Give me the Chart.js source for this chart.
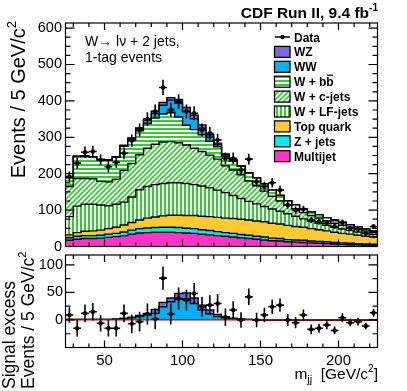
<!DOCTYPE html>
<html>
<head>
<meta charset="utf-8">
<title>CDF W+2 jets, 1-tag mjj</title>
<script src="https://cdn.jsdelivr.net/npm/chart.js@4.4.1/dist/chart.umd.min.js"></script>
<style>
  html, body { margin: 0; padding: 0; background: #fff; }
  #wrap { position: relative; width: 407px; height: 391px; overflow: hidden; }
  #wrap canvas { position: absolute; left: 0; top: 0; }
</style>
</head>
<body>
<div id="wrap">
  <canvas id="mainChart" width="407" height="391"></canvas>
  <canvas id="excessChart" width="407" height="391"></canvas>
</div>
<script>
// m_jj bin edges, 5 GeV/c^2 bins
const binEdges = [25,30,35,40,45,50,55,60,65,70,75,80,85,90,95,100,105,110,115,120,
                  125,130,135,140,145,150,155,160,165,170,175,180,185,190,195,200,205,210,215,220,225];

// background + signal templates (events / bin), bottom of the stack first
const multijet = [17,20,22,22,23,25,27,30,34,37,38,39,39,39,38,37,36,34,32,30,28,26,24,22,20,18,16,15,13,12,11,10,9,8,7,6,5,5,4,3];
const zJets    = [7,8,8,8,8,9,9,10,11,12,13,13,14,14,14,13,13,12,12,11,10,10,9,9,8,8,7,7,6,6,6,5,5,5,4,4,4,3,3,3];
const topQuark = [8,10,12,13,14,15,17,19,21,24,27,29,31,33,34,35,36,37,38,39,40,41,42,42,42,42,41,40,39,37,36,34,32,30,28,26,25,23,21,20];
const wLFjets  = [50,73,74,73,69,63,63,63,70,83,87,89,89,89,89,88,85,83,79,75,70,63,57,51,47,42,39,35,32,28,23,21,18,15,14,12,10,9,8,7];
const wCjets   = [83,76,71,70,65,66,69,87,92,96,105,111,114,113,110,106,100,95,90,85,74,70,65,56,50,42,35,28,24,21,17,15,14,12,11,10,9,8,7,5];
const wBB      = [24,60,61,60,59,59,60,66,65,66,68,72,77,81,71,54,51,46,38,34,26,25,23,22,21,20,17,15,12,11,11,10,9,9,8,8,7,6,5,4];
const wwSignal = [1,1,1,1,1,1,1,2,4,6,9,12,24,33,38,38,30,18,11,6,4,2,1,1,0,0,0,0,0,0,0,0,0,0,0,0,0,0,0,0];
const wzSignal = [0,0,0,0,0,0,1,1,1,2,3,7,8,7,10,11,10,9,7,4,2,1,1,0,0,0,0,0,0,0,0,0,0,0,0,0,0,0,0,0];

// data
const dataCounts = [192,229,259,261,238,219,231,256,291,320,350,371,437,376,398,371,366,320,311,293,
                    242,242,210,240,178,165,175,155,114,100,102,73,68,64,55,66,50,48,36,55];
const dataErr    = [14,15,16,16,15,15,15,16,17,18,19,19,21,19,20,19,19,18,18,17,
                    16,16,14,15,13,13,13,12,11,10,10,9,8,8,7,8,7,7,6,7];
// data minus non-diboson backgrounds
const excess     = [9,-15,12,15,-6,-15,-15,12,-7,-3,11,2,76,11,39,36,48,24,27,30,
                    5,18,0,42,0,9,24,27,0,-5,9,-17,-15,-9,-19,4,-5,-3,-11,13];

// axis ticks
const mainYTicks = [0,100,200,300,400,500,600];
const mainYMinor = [25,50,75,125,150,175,225,250,275,325,350,375,425,450,475,525,550,575];
const excessYTicks = [0,50,100];
const excessYMinor = [-25,25,75];
const xTicks = [50,100,150,200];
const xMinor = [30,40,60,70,80,90,110,120,130,140,160,170,180,190,210,220];

const FONT = '"Liberation Sans", Arial, Helvetica, sans-serif';
const GREEN = '#33cc33';
const col = {
  multijet: '#ff33cc', z: '#00eeee', top: '#ffc933', ww: '#00b0f0', wz: '#7a66e0'
};

function hatch(kind) {
  const c = document.createElement('canvas');
  const s = kind === 'd' ? 5 : 4;
  c.width = s; c.height = s;
  const g = c.getContext('2d');
  g.fillStyle = '#fff'; g.fillRect(0, 0, s, s);
  g.fillStyle = GREEN; g.strokeStyle = GREEN;
  if (kind === 'h') g.fillRect(0, 0, s, 2);
  if (kind === 'v') g.fillRect(0, 0, 2, s);
  if (kind === 'd') {
    g.lineWidth = 1.6;
    g.beginPath();
    for (let k = -1; k <= 1; k++) { g.moveTo(k * s - 1, s + 1); g.lineTo(k * s + s + 1, -1); }
    g.stroke();
  }
  return g.createPattern(c, 'repeat');
}
const patH = hatch('h'), patD = hatch('d'), patV = hatch('v');

const layers = [
  { label: 'Multijet',    vals: multijet, bg: col.multijet },
  { label: 'Z + jets',    vals: zJets,    bg: col.z },
  { label: 'Top quark',   vals: topQuark, bg: col.top },
  { label: 'W + LF-jets', vals: wLFjets,  bg: patV },
  { label: 'W + c-jets',  vals: wCjets,   bg: patD },
  { label: 'W + bb',      vals: wBB,      bg: patH },
  { label: 'WW',          vals: wwSignal, bg: col.ww },
  { label: 'WZ',          vals: wzSignal, bg: col.wz }
];

const nBins = binEdges.length - 1;
const binCentres = binEdges.slice(0, nBins).map((e, i) => (e + binEdges[i + 1]) / 2);

// histogram step points: value of bin i held from edge i to edge i+1
function stepPoints(vals) {
  return binEdges.map((x, i) => ({ x: x, y: vals[Math.min(i, nBins - 1)] }));
}

function stackDatasets(list, baseOrder) {
  let cum = new Array(nBins).fill(0);
  return list.map((L, k) => {
    cum = cum.map((c, i) => c + L.vals[i]);
    return {
      label: L.label, data: stepPoints(cum), stepped: 'before',
      fill: k === 0 ? 'origin' : '-1', backgroundColor: L.bg,
      borderColor: '#000', borderWidth: 1.4, pointRadius: 0, order: baseOrder + k
    };
  });
}

const mainDatasets = stackDatasets(layers, 10);
mainDatasets.push({
  label: 'Data', data: binCentres.map((x, i) => ({ x: x, y: dataCounts[i] })),
  errors: dataErr, showLine: false, pointRadius: 2.2, pointBackgroundColor: '#000',
  pointBorderWidth: 0, order: 0
});

const excessDatasets = stackDatasets(layers.slice(6), 10);
excessDatasets.push({
  label: 'zero', data: [{ x: 25, y: 0 }, { x: 225, y: 0 }], borderColor: '#e00000',
  borderWidth: 1.2, pointRadius: 0, fill: false, order: 1
});
excessDatasets.push({
  label: 'Excess', data: binCentres.map((x, i) => ({ x: x, y: excess[i] })),
  errors: dataErr, showLine: false, pointRadius: 2.2, pointBackgroundColor: '#000',
  pointBorderWidth: 0, order: 0
});

// ---- plugins ----
const errorBars = {
  id: 'errorBars',
  afterDatasetsDraw(chart) {
    const { ctx, chartArea: a, scales: { x, y } } = chart;
    ctx.save();
    ctx.beginPath(); ctx.rect(a.left, a.top, a.right - a.left, a.bottom - a.top); ctx.clip();
    ctx.strokeStyle = '#000'; ctx.lineWidth = 1.6;
    chart.data.datasets.forEach(ds => {
      if (!ds.errors) return;
      ctx.beginPath();
      ds.data.forEach((p, i) => {
        const px = x.getPixelForValue(p.x), py = y.getPixelForValue(p.y);
        ctx.moveTo(px, y.getPixelForValue(p.y - ds.errors[i]));
        ctx.lineTo(px, y.getPixelForValue(p.y + ds.errors[i]));
        ctx.moveTo(x.getPixelForValue(p.x - 2.5), py);
        ctx.lineTo(x.getPixelForValue(p.x + 2.5), py);
      });
      ctx.stroke();
    });
    ctx.restore();
  }
};

const frameAndTicks = {
  id: 'frameAndTicks',
  afterDraw(chart, args, o) {
    const { ctx, chartArea: a, scales: { x, y } } = chart;
    ctx.save();
    ctx.strokeStyle = '#000'; ctx.lineWidth = 1.2;
    ctx.beginPath();
    const xt = (vals, len) => vals.forEach(v => {
      const p = x.getPixelForValue(v);
      ctx.moveTo(p, a.bottom); ctx.lineTo(p, a.bottom - len);
      ctx.moveTo(p, a.top); ctx.lineTo(p, a.top + len);
    });
    const yt = (vals, len) => vals.forEach(v => {
      const p = y.getPixelForValue(v);
      ctx.moveTo(a.left, p); ctx.lineTo(a.left + len, p);
      ctx.moveTo(a.right, p); ctx.lineTo(a.right - len, p);
    });
    xt(o.xMajor, 7); xt(o.xMinor, 4);
    yt(o.yMajor, 9); yt(o.yMinor, 5);
    ctx.stroke();
    ctx.strokeRect(a.left, a.top, a.right - a.left, a.bottom - a.top);
    ctx.restore();
  }
};

// text with sub/superscripts: parts = [text, scale, rise]
function richText(ctx, parts, x, y, align, size, weight) {
  let w = 0;
  parts.forEach(p => { ctx.font = `${weight} ${size * (p[1] || 1)}px ${FONT}`; w += ctx.measureText(p[0]).width; });
  let cx = align === 'right' ? x - w : (align === 'center' ? x - w / 2 : x);
  ctx.textAlign = 'left'; ctx.textBaseline = 'alphabetic';
  parts.forEach(p => {
    ctx.font = `${weight} ${size * (p[1] || 1)}px ${FONT}`;
    ctx.fillText(p[0], cx, y - (p[2] || 0) * size);
    cx += ctx.measureText(p[0]).width;
  });
  return w;
}

const legendRows = [
  { label: 'Data' },
  { label: 'WZ', bg: col.wz },
  { label: 'WW', bg: col.ww },
  { label: 'W + bb', bg: patH, bar: true },
  { label: 'W + c-jets', bg: patD },
  { label: 'W + LF-jets', bg: patV },
  { label: 'Top quark', bg: col.top },
  { label: 'Z + jets', bg: col.z },
  { label: 'Multijet', bg: col.multijet }
];

const mainDecor = {
  id: 'mainDecor',
  afterDraw(chart) {
    const ctx = chart.ctx;
    ctx.save();
    ctx.fillStyle = '#000';
    richText(ctx, [['CDF Run II, 9.4 fb'], ['-1', 0.65, 0.45]], 378, 17.5, 'right', 15.5, 'bold');
    richText(ctx, [['W\u2192 l\u03bd + 2 jets,']], 85, 45.5, 'left', 14, 'normal');
    richText(ctx, [['1-tag events']], 85, 62, 'left', 14, 'normal');
    ctx.save();
    ctx.translate(25, 21); ctx.rotate(-Math.PI / 2);
    richText(ctx, [['Events / 5 GeV/c'], ['2', 0.65, 0.45]], 0, 0, 'right', 20, 'normal');
    ctx.restore();
    // legend
    legendRows.forEach((r, i) => {
      const yc = 37 + 14.9 * i;
      ctx.strokeStyle = '#000';
      if (!r.bg) {
        ctx.lineWidth = 1.5;
        ctx.beginPath(); ctx.moveTo(275, yc); ctx.lineTo(290, yc); ctx.stroke();
        ctx.beginPath(); ctx.arc(282.5, yc, 2.2, 0, Math.PI * 2); ctx.fill();
      } else {
        ctx.fillStyle = r.bg; ctx.fillRect(274.5, yc - 5.5, 15.5, 11);
        ctx.lineWidth = 1.3; ctx.strokeRect(274.5, yc - 5.5, 15.5, 11);
      }
      ctx.fillStyle = '#000';
      richText(ctx, [[r.label]], 294, yc + 4.5, 'left', 12, 'bold');
      if (r.bar) {
        ctx.font = `bold 12px ${FONT}`;
        const x0 = 294 + ctx.measureText('W + b').width, x1 = 294 + ctx.measureText('W + bb').width;
        ctx.lineWidth = 1.2;
        ctx.beginPath(); ctx.moveTo(x0 + 0.5, yc - 6.5); ctx.lineTo(x1 - 0.5, yc - 6.5); ctx.stroke();
      }
    });
    ctx.restore();
  }
};

const excessDecor = {
  id: 'excessDecor',
  afterDraw(chart) {
    const ctx = chart.ctx;
    ctx.save();
    ctx.fillStyle = '#000';
    ctx.save(); ctx.translate(14.5, 389); ctx.rotate(-Math.PI / 2);
    richText(ctx, [['Signal excess']], 0, 0, 'left', 17.5, 'normal');
    ctx.restore();
    ctx.save(); ctx.translate(34, 389); ctx.rotate(-Math.PI / 2);
    richText(ctx, [['Events / 5 GeV/c'], ['2', 0.65, 0.45]], 0, 0, 'left', 17.5, 'normal');
    ctx.restore();
    richText(ctx, [['m'], ['jj', 0.7, -0.3], ['  [GeV/c'], ['2', 0.65, 0.45], [']']], 378, 378.5, 'right', 15.5, 'normal');
    ctx.restore();
  }
};

const tickFont = { family: FONT, size: 14.5 };

new Chart(document.getElementById('mainChart'), {
  type: 'line',
  data: { datasets: mainDatasets },
  options: {
    responsive: false, animation: false, events: [],
    layout: { padding: { left: 0, top: 23, right: 29.5, bottom: 144.5 } },
    plugins: {
      legend: { display: false }, tooltip: { enabled: false },
      frameAndTicks: { xMajor: xTicks, xMinor: xMinor, yMajor: mainYTicks, yMinor: mainYMinor }
    },
    scales: {
      x: { type: 'linear', min: 25, max: 225, display: false },
      y: {
        type: 'linear', min: 0, max: 614,
        grid: { display: false, drawTicks: false }, border: { display: false },
        afterFit: s => { s.width = 65.5; },
        afterBuildTicks: s => { s.ticks = mainYTicks.map(v => ({ value: v })); },
        ticks: { color: '#000', font: tickFont, padding: 3.5 }
      }
    }
  },
  plugins: [errorBars, frameAndTicks, mainDecor]
});

new Chart(document.getElementById('excessChart'), {
  type: 'line',
  data: { datasets: excessDatasets },
  options: {
    responsive: false, animation: false, events: [],
    layout: { padding: { left: 0, top: 255, right: 29.5, bottom: 0 } },
    plugins: {
      legend: { display: false }, tooltip: { enabled: false },
      frameAndTicks: { xMajor: xTicks, xMinor: xMinor, yMajor: excessYTicks, yMinor: excessYMinor }
    },
    scales: {
      x: {
        type: 'linear', min: 25, max: 225,
        grid: { display: false, drawTicks: false }, border: { display: false },
        afterFit: s => { s.height = 43.5; },
        afterBuildTicks: s => { s.ticks = xTicks.map(v => ({ value: v })); },
        ticks: { color: '#000', font: { family: FONT, size: 15 }, padding: 4, maxRotation: 0, autoSkip: false }
      },
      y: {
        type: 'linear', min: -50, max: 118,
        grid: { display: false, drawTicks: false }, border: { display: false },
        afterFit: s => { s.width = 65.5; },
        afterBuildTicks: s => { s.ticks = excessYTicks.map(v => ({ value: v })); },
        ticks: { color: '#000', font: tickFont, padding: 2.5 }
      }
    }
  },
  plugins: [errorBars, frameAndTicks, excessDecor]
});
</script>
</body>
</html>
